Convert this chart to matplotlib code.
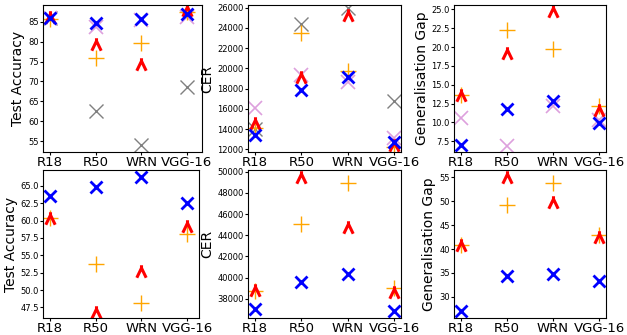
import numpy as np
import matplotlib
matplotlib.use("Agg")
import matplotlib.pyplot as plt
from matplotlib.path import Path

models = ["R18", "R50", "WRN", "VGG-16"]

# top row
acc_grey = [86.0, 62.6, 54.0, 68.5]
acc_purple = [86.0, 83.7, 85.4, 86.2]
acc_orange = [85.8, 76.0, 79.6, 87.5]
acc_red = [86.3, 79.3, 74.5, 87.9]
acc_blue = [86.0, 84.7, 85.6, 86.9]

cer_grey = [14000, 24380, 25930, 16790]
cer_purple = [16100, 19330, 18670, 13120]
cer_orange = [14120, 23460, 19760, 12230]
cer_red = [14610, 19170, 25270, 12400]
cer_blue = [13390, 17910, 19170, 12730]

gap_purple = [10.65, 6.88, 12.15, 10.3]
gap_orange = [13.7, 22.25, 19.8, 12.15]
gap_red = [13.6, 19.24, 24.8, 11.6]
gap_blue = [6.97, 11.84, 12.86, 9.94]

# bottom row
acc2_orange = [60.35, 53.73, 48.1, 58.05]
acc2_red = [60.45, 46.9, 52.78, 59.25]
acc2_blue = [63.56, 64.8, 66.25, 62.5]

cer2_orange = [38690, 45070, 48900, 39000]
cer2_red = [38850, 49530, 44820, 38600]
cer2_blue = [37060, 39570, 40320, 36800]

gap2_orange = [40.76, 49.2, 53.75, 43.0]
gap2_red = [40.9, 55.1, 49.9, 42.6]
gap2_blue = [27.0, 34.4, 34.86, 33.4]

# open lambda-like marker with a small stub on top
lam = Path([(-0.75, -1.0), (0.0, 0.55), (0.75, -1.0), (0.0, 0.55), (0.0, 1.0)],
           [Path.MOVETO, Path.LINETO, Path.LINETO, Path.MOVETO, Path.LINETO])

fig = plt.figure(figsize=(6.27, 3.35), dpi=100)

W, H = 627, 335
def add_ax(l, t, r, b):
    return fig.add_axes([l / W, 1 - b / H, (r - l) / W, (b - t) / H])

x = np.arange(len(models))

def draw(ax, series, ylabel, ylim, yticks, xlim):
    for vals, st in series:
        if st == "grey":
            ax.plot(x, vals, ls="none", marker="x", color="grey", ms=10, mew=1.0)
        elif st == "purple":
            ax.plot(x, vals, ls="none", marker="x", color="plum", ms=10, mew=1.2)
        elif st == "orange":
            ax.plot(x, vals, ls="none", marker="+", color="orange", ms=11, mew=1.0)
        elif st == "red":
            ax.plot(x, vals, ls="none", marker=lam, color="red", mfc="none", ms=9, mew=2.2)
        elif st == "blue":
            ax.plot(x, vals, ls="none", marker="x", color="blue", ms=9, mew=2.0)
    ax.set_xticks(x)
    ax.set_xticklabels(models, fontsize=9.5)
    ax.set_yticks(yticks)
    ax.tick_params(axis="y", labelsize=6, length=2, pad=1)
    ax.tick_params(axis="x", length=2, pad=1)
    ax.set_ylabel(ylabel, fontsize=10, labelpad=2)
    ax.set_ylim(*ylim)
    ax.set_xlim(*xlim)

xl = (-0.15, 3.15)

ax1 = add_ax(43, 5, 202, 152)
draw(ax1, [(acc_grey, "grey"), (acc_purple, "purple"), (acc_orange, "orange"), (acc_red, "red"), (acc_blue, "blue")],
     "Test Accuracy", (52.3, 89.2), np.arange(55, 86, 5), (-0.153, 3.33))

ax2 = add_ax(248, 5, 401, 152)
draw(ax2, [(cer_grey, "grey"), (cer_purple, "purple"), (cer_orange, "orange"), (cer_red, "red"), (cer_blue, "blue")],
     "CER", (11740, 26260), np.arange(12000, 26001, 2000), xl)

ax3 = add_ax(454, 5, 606, 152)
draw(ax3, [(gap_purple, "purple"), (gap_orange, "orange"), (gap_red, "red"), (gap_blue, "blue")],
     "Generalisation Gap", (6.08, 25.58), np.arange(7.5, 25.1, 2.5), xl)

ax4 = add_ax(43, 170, 199, 318)
draw(ax4, [(acc2_orange, "orange"), (acc2_red, "red"), (acc2_blue, "blue")],
     "Test Accuracy", (45.97, 67.3), np.arange(47.5, 65.1, 2.5), (-0.153, 3.26))

ax5 = add_ax(248, 170, 401, 318)
draw(ax5, [(cer2_orange, "orange"), (cer2_red, "red"), (cer2_blue, "blue")],
     "CER", (36180, 50160), np.arange(38000, 50001, 2000), xl)

ax6 = add_ax(454, 170, 606, 318)
draw(ax6, [(gap2_orange, "orange"), (gap2_red, "red"), (gap2_blue, "blue")],
     "Generalisation Gap", (25.6, 56.5), np.arange(30, 56, 5), xl)

plt.savefig("out.png", dpi=100)
